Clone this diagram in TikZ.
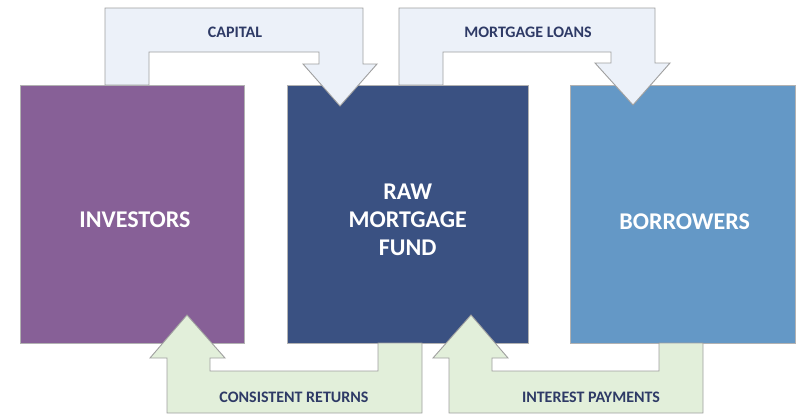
\documentclass[tikz,border=0pt]{standalone}
\usepackage{fontspec}
\setmainfont{Carlito}
\usepackage{xcolor}
\usepackage{tikz}
\usetikzlibrary{positioning,calc}

\definecolor{invcol}{RGB}{135,96,151}
\definecolor{fundcol}{RGB}{58,81,130}
\definecolor{borcol}{RGB}{100,152,198}
\definecolor{topflow}{RGB}{236,241,249}
\definecolor{botflow}{RGB}{226,239,218}
\definecolor{flowtext}{RGB}{46,58,102}

\tikzset{
    party/.style={draw=gray!60, line width=0.4pt, anchor=north west, minimum width=224.5pt, minimum height=258.5pt, inner sep=0pt},
    partytext/.style={text=white, font=\bfseries\fontsize{24}{28}\selectfont, align=center},
    flow/.style={draw=gray!75, line width=0.9pt, line join=miter},
    flowtext/.style={text=flowtext, font=\bfseries\fontsize{16}{18}\selectfont}
}

\begin{document}
\begin{tikzpicture}[x=1pt, y=-1pt]
        \useasboundingbox (0,0) rectangle (798,415);

        % Parties
        \node[party, fill=invcol] (inv) at (19.5,84.5) {};
        \node[party, fill=fundcol, minimum width=241pt] (fund) at (287,84.5) {};
        \node[party, fill=borcol, minimum width=225pt] (bor) at (570,84.5) {};

        \node[partytext] (invtext) at ($(inv.center)+(3,6)$) {INVESTORS};
        \node[partytext] (fundtext) at ($(fund.center)+(0,6)$) {RAW\\MORTGAGE\\FUND};
        \node[partytext] (bortext) at ($(bor.center)+(2,8)$) {BORROWERS};

        % Capital
        \draw[flow, fill=topflow] (105,85) -- (105,8) -- (363,8) -- (363,64) -- (377,64) -- (340,106)
            -- (303,64) -- (319,64) -- (319,52) -- (149,52) -- (149,85) -- cycle;
        \node[flowtext] (capital) at (235,32) {CAPITAL};

        % Mortgage loans
        \draw[flow, fill=topflow] (399,85) -- (399,8) -- (655,8) -- (655,63) -- (670,63) -- (633,105)
            -- (595,63) -- (611,63) -- (611,52) -- (443,52) -- (443,85) -- cycle;
        \node[flowtext] (loans) at (528,32) {MORTGAGE LOANS};

        % Consistent returns
        \draw[flow, fill=botflow] (378,343) -- (378,371) -- (210,371) -- (210,358) -- (225,358) -- (187,315)
            -- (150,358) -- (167,358) -- (167,413) -- (422,413) -- (422,343) -- cycle;
        \node[flowtext] (returns) at (294,397) {CONSISTENT RETURNS};

        % Interest payments
        \draw[flow, fill=botflow] (659,343) -- (659,371) -- (492,371) -- (492,358) -- (508,358) -- (471,315)
            -- (433,358) -- (449,358) -- (449,413) -- (703,413) -- (703,343) -- cycle;
        \node[flowtext] (interest) at (591,397) {INTEREST PAYMENTS};
    \end{tikzpicture}
\end{document}
